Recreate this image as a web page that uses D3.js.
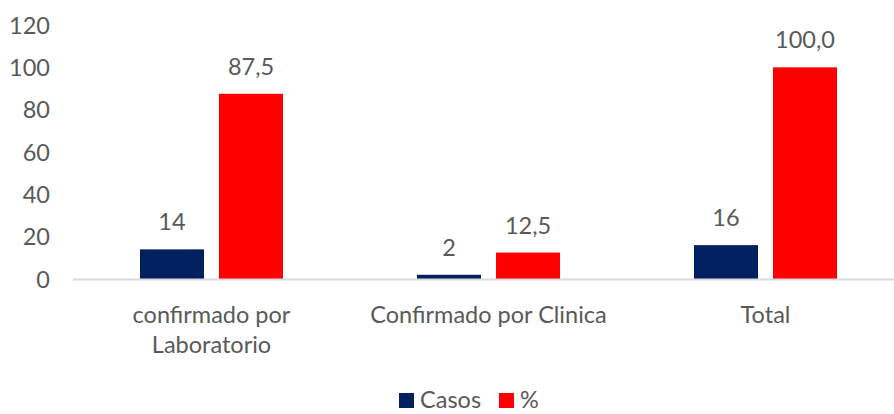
<!DOCTYPE html>
<html>
<head>
<meta charset="utf-8">
<script src="https://cdn.jsdelivr.net/npm/d3@7"></script>
<style>
  body { margin: 0; background: #fff; }
  svg { display: block; font-family: Lato, "Open Sans", sans-serif; }
</style>
</head>
<body>
<script>
// chart data
const categories = ["confirmado por Laboratorio", "Confirmado por Clinica", "Total"]
const categoryLines = [["confirmado por", "Laboratorio"], ["Confirmado por Clinica"], ["Total"]]
const seriesNames = ["Casos", "%"]
const casos = [14, 2, 16]
const pct = [87.5, 12.5, 100.0]
const yTicks = [0, 20, 40, 60, 80, 100, 120]
const colors = ["#002060", "#ff0000"]

const width = 894, height = 414
const textColor = "#595959"
const fontSize = "23.5px"

const svg = d3.select("body").append("svg")
  .attr("width", width)
  .attr("height", height)

// scales
const x0 = d3.scaleBand()
  .domain(categories)
  .range([73, 904])
  .paddingInner(0)
  .paddingOuter(0)

const x1 = d3.scaleBand()
  .domain(seriesNames)
  .range([67, x0.bandwidth() - 67])
  .paddingInner(0.19)

const y = d3.scaleLinear()
  .domain([0, 120])
  .range([279, 25])

// y labels (no gridlines)
svg.append("g")
  .selectAll("text")
  .data(yTicks)
  .join("text")
  .attr("x", 50)
  .attr("y", d => y(d) + 8.5)
  .attr("text-anchor", "end")
  .attr("fill", textColor)
  .style("font-size", fontSize)
  .text(d => d)

// bars
const rows = categories.map((c, i) => ({ cat: c, values: [casos[i], pct[i]] }))

const groups = svg.append("g")
  .selectAll("g")
  .data(rows)
  .join("g")
  .attr("transform", d => `translate(${x0(d.cat)},0)`)

groups.selectAll("rect")
  .data(d => d.values.map((v, j) => ({ key: seriesNames[j], v, j })))
  .join("rect")
  .attr("x", d => x1(d.key))
  .attr("width", x1.bandwidth())
  .attr("y", d => y(d.v))
  .attr("height", d => y(0) - y(d.v))
  .attr("fill", d => colors[d.j])

// value labels
const fmt = v => d3.format(".1f")(v).replace(".", ",")
groups.selectAll("text.val")
  .data(d => d.values.map((v, j) => ({ key: seriesNames[j], v, j })))
  .join("text")
  .attr("class", "val")
  .attr("x", d => x1(d.key) + x1.bandwidth() / 2)
  .attr("y", d => y(d.v) - 19)
  .attr("text-anchor", "middle")
  .attr("fill", textColor)
  .style("font-size", fontSize)
  .text(d => d.j === 0 ? d.v : fmt(d.v))

// x axis line
svg.append("line")
  .attr("x1", 73).attr("x2", 904)
  .attr("y1", y(0) + 0.5).attr("y2", y(0) + 0.5)
  .attr("stroke", "#d9d9d9")
  .attr("stroke-width", 2)

// category labels
const catText = svg.append("g")
  .selectAll("text")
  .data(categories)
  .join("text")
  .attr("text-anchor", "middle")
  .attr("fill", textColor)
  .style("font-size", fontSize)
  .attr("transform", d => `translate(${x0(d) + x0.bandwidth() / 2},323)`)

catText.selectAll("tspan")
  .data((d, i) => categoryLines[i])
  .join("tspan")
  .attr("x", 0)
  .attr("dy", (d, i) => i === 0 ? 0 : 30)
  .text(d => d)

// legend
const legend = svg.append("g").attr("transform", "translate(399,0)")
const legendX = [0, 100]
seriesNames.forEach((name, i) => {
  legend.append("rect")
    .attr("x", legendX[i])
    .attr("y", 393)
    .attr("width", 15)
    .attr("height", 15)
    .attr("fill", colors[i])
  legend.append("text")
    .attr("x", legendX[i] + 21)
    .attr("y", 408)
    .attr("fill", textColor)
    .style("font-size", fontSize)
    .text(name)
})
</script>
</body>
</html>
